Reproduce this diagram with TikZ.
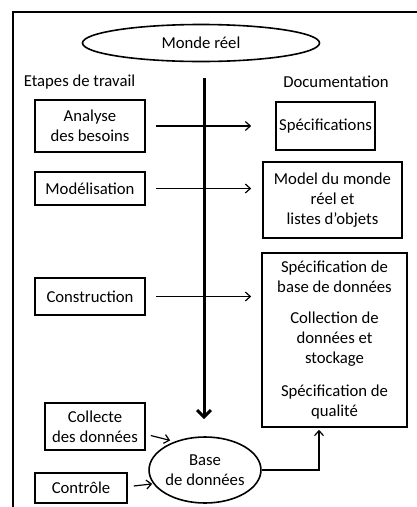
\documentclass[tikz,border=0pt]{standalone}
\usepackage{fontspec}
\setmainfont{Carlito}
\usetikzlibrary{arrows.meta,shapes.geometric}
\begin{document}
\begin{tikzpicture}[x=1pt,y=-1pt,
  every node/.style={font=\fontsize{16.7}{20}\selectfont},
  box/.style={draw, line width=1.6pt, align=center, inner sep=0pt, rectangle},
  oval/.style={draw, line width=1.6pt, align=center, inner sep=0pt, ellipse},
  txt/.style={align=center, inner sep=0pt},
  arr/.style={line width=1.2pt, -{Straight Barb[length=5pt,width=9pt,line width=1.2pt]}},
  bigarr/.style={line width=3pt, -{Straight Barb[length=7pt,width=14pt,line width=3pt]}},
  frame/.style={line width=2pt}
]
\useasboundingbox (0,0) rectangle (417,507);
% frame
\coordinate (ftl) at (13,12);
\coordinate (ftr) at (418,12);
\coordinate (fbl) at (13,508);
\draw[frame] (fbl) -- (ftl) -- (ftr);

\node[oval, minimum width=237pt, minimum height=37pt] (monde) at (201,43) {Monde réel};
\node[txt] (etapes) at (79.5,82) {Etapes de travail};
\node[txt] (doc) at (336,82) {Documentation};

\node[box, minimum width=110pt, minimum height=52pt] (ana) at (90,126) {Analyse\\des besoins};
\node[box, minimum width=99pt, minimum height=48pt] (spec) at (325.5,126) {Spécifications};
\node[box, minimum width=110pt, minimum height=33pt] (mod) at (90,188.5) {Modélisation};
\node[box, minimum width=139pt, minimum height=76pt] (model) at (332.5,200) {Model du monde\\réel et\\listes d’objets};
\node[box, minimum width=110pt, minimum height=37pt] (cons) at (90,296.5) {Construction};
\node[box, minimum width=145pt, minimum height=174pt] (big) at (334.5,340) {};
\node[txt] (g1) at (334.5,277) {Spécification de\\base de données};
\node[txt] (g2) at (334.5,339) {Collection de\\données et\\stockage};
\node[txt] (g3) at (334.5,402) {Spécification de\\qualité};
\node[box, minimum width=100pt, minimum height=47pt] (coll) at (95,426.5) {Collecte\\des données};
\node[box, minimum width=92pt, minimum height=30pt] (ctrl) at (81,488) {Contrôle};
\node[oval, minimum width=102pt, minimum height=66pt] (base) at (205,470) {Base\\de données};

% vertical thick arrow
\coordinate (vtop) at (204,78);
\draw[bigarr, shorten >=17pt] (vtop) -- (vtop |- base.north);

% horizontal arrows
\draw[arr, shorten <=10pt, shorten >=24pt] (ana.east) -- (spec.west |- ana.east);
\draw[arr, shorten <=10pt, shorten >=11pt] (mod.east) -- (model.west |- mod.east);
\draw[arr, shorten <=10pt, shorten >=10pt] (cons.east) -- (big.west |- cons.east);

% inputs to base
\draw[arr] ([shift={(5,9)}]coll.east) -- ([shift={(-2,-2)}]base.140);
\draw[arr] ([shift={(6,-2)}]ctrl.east) -- ([shift={(-1,0)}]base.195);

% base to big
\draw[arr, shorten >=2pt] (base.east) -| ([xshift=-15.5pt]big.south);
\end{tikzpicture}
\end{document}
